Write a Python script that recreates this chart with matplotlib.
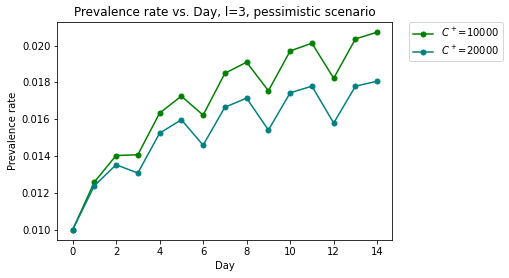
import numpy as np
import matplotlib
matplotlib.use('Agg')
import matplotlib.pyplot as plt

# data
days = list(range(15))
prev_10000 = [0.0100, 0.0126, 0.01404, 0.01408, 0.01634, 0.01726, 0.01623, 0.0185,
              0.0191, 0.01755, 0.01971, 0.02013, 0.01823, 0.02036, 0.02073]
prev_20000 = [0.0100, 0.0124, 0.01354, 0.01309, 0.01525, 0.01598, 0.0146, 0.01666,
              0.01715, 0.01542, 0.01744, 0.0178, 0.0158, 0.0178, 0.01807]
labels = [r'$C^+$=10000', r'$C^+$=20000']

fig = plt.figure(figsize=(509 / 72, 278 / 72), dpi=72)
ax = fig.add_axes([0.1126, 0.137, 0.6584, 0.783])

ax.plot(days, prev_10000, marker='o', markersize=5, color='green', label=labels[0])
ax.plot(days, prev_20000, marker='o', markersize=5, color='teal', label=labels[1])

ax.set_title('Prevalence rate vs. Day, l=3, pessimistic scenario')
ax.set_xlabel('Day')
ax.set_ylabel('Prevalence rate')
ax.set_xticks(range(0, 15, 2))
ax.set_yticks(np.arange(0.010, 0.0201, 0.002))

ax.legend(loc='upper left', bbox_to_anchor=(1.05, 1.0), borderaxespad=0.)

plt.savefig('out.png', dpi=72)
